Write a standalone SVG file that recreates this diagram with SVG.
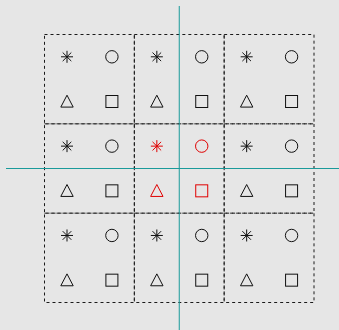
<svg xmlns="http://www.w3.org/2000/svg" xmlns:xlink="http://www.w3.org/1999/xlink" width="339" height="330" viewBox="0 0 339 330">
  <style>
    .box { fill: none; stroke: #1a1a1a; stroke-width: 1; stroke-dasharray: 3 3; }
    .sym { fill: none; stroke-width: 1; }
    .blk { stroke: #111; }
    .red { stroke: #e00000; }
    .guide { stroke: #1a9a9a; stroke-width: 1; fill: none; }
  </style>
  <defs>
    <g id="ast" class="sym">
      <line x1="0" y1="-6" x2="0" y2="6"/>
      <line x1="-6" y1="0" x2="6" y2="0"/>
      <line x1="-4.3" y1="-4.3" x2="4.3" y2="4.3"/>
      <line x1="-4.3" y1="4.3" x2="4.3" y2="-4.3"/>
    </g>
    <circle id="circ" class="sym" r="6.2"/>
    <polygon id="tri" class="sym" points="0,-6.3 6.2,5.6 -6.2,5.6"/>
    <rect id="sq" class="sym" x="-6" y="-6" width="12" height="12"/>
    <g id="cell">
      <use xlink:href="#ast" x="22.5" y="22.3"/>
      <use xlink:href="#circ" x="67.4" y="22.3"/>
      <use xlink:href="#tri" x="22.5" y="67"/>
      <use xlink:href="#sq" x="67.4" y="67"/>
    </g>
  </defs>
  <rect width="339" height="330" fill="#e6e6e6"/>

  <g id="box-1-1" transform="translate(44.5,34.5)"><rect class="box" width="89.83" height="89.33"/><use class="blk" xlink:href="#cell"/></g>
  <g id="box-1-2" transform="translate(134.33,34.5)"><rect class="box" width="89.83" height="89.33"/><use class="blk" xlink:href="#cell"/></g>
  <g id="box-1-3" transform="translate(224.17,34.5)"><rect class="box" width="89.83" height="89.33"/><use class="blk" xlink:href="#cell"/></g>

  <g id="box-2-1" transform="translate(44.5,123.83)"><rect class="box" width="89.83" height="89.33"/><use class="blk" xlink:href="#cell"/></g>
  <g id="box-2-2" transform="translate(134.33,123.83)"><rect class="box" width="89.83" height="89.33"/><use class="red" xlink:href="#cell"/></g>
  <g id="box-2-3" transform="translate(224.17,123.83)"><rect class="box" width="89.83" height="89.33"/><use class="blk" xlink:href="#cell"/></g>

  <g id="box-3-1" transform="translate(44.5,213.17)"><rect class="box" width="89.83" height="89.33"/><use class="blk" xlink:href="#cell"/></g>
  <g id="box-3-2" transform="translate(134.33,213.17)"><rect class="box" width="89.83" height="89.33"/><use class="blk" xlink:href="#cell"/></g>
  <g id="box-3-3" transform="translate(224.17,213.17)"><rect class="box" width="89.83" height="89.33"/><use class="blk" xlink:href="#cell"/></g>

  <g id="connectors">
    <line class="guide" x1="179.25" y1="6" x2="179.25" y2="330"/>
    <line class="guide" x1="6" y1="168.5" x2="339" y2="168.5"/>
  </g>
</svg>
